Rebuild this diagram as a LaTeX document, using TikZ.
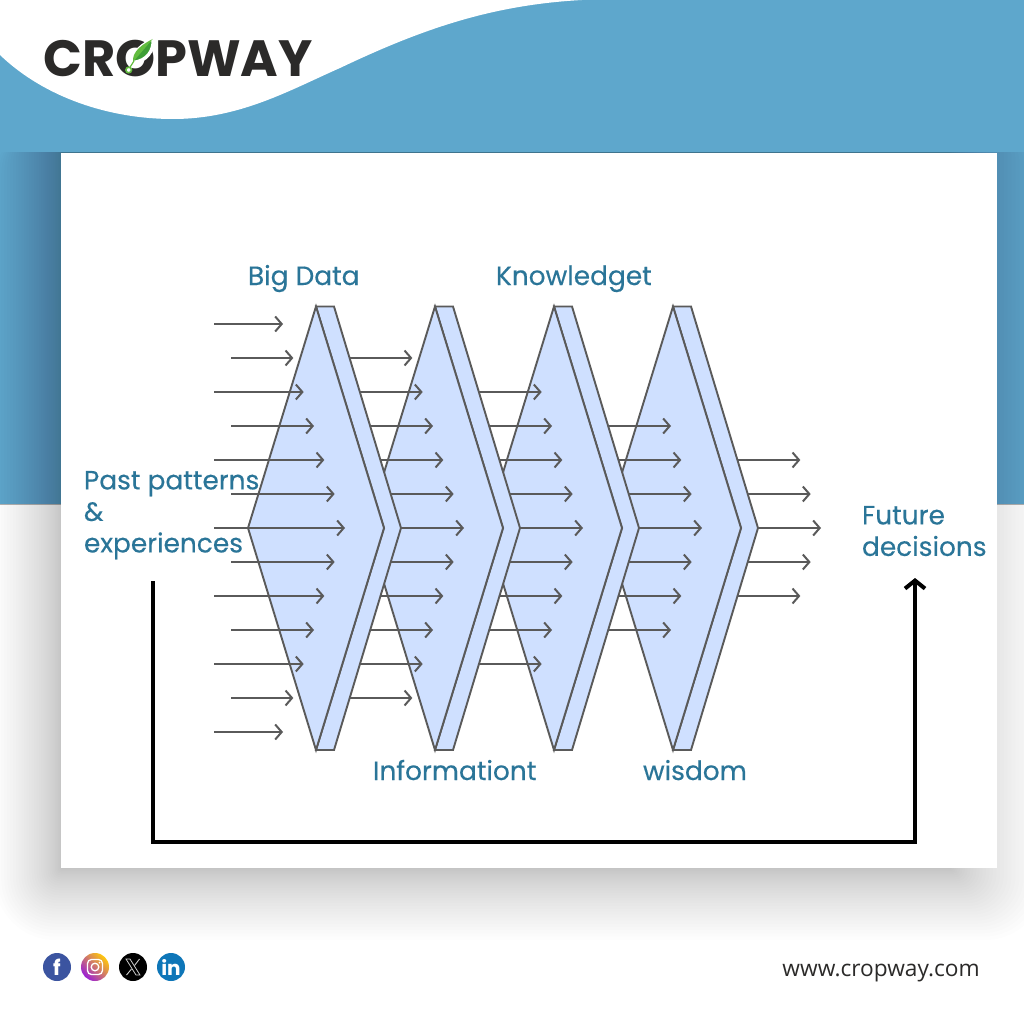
\documentclass[tikz,border=0pt]{standalone}
\usepackage{fontspec}
\setmainfont{Poppins}
\newfontfamily\labelfont[FakeBold=0.3]{Poppins}
\newfontfamily\webfont{Open Sans}
\usetikzlibrary{arrows.meta,calc}
\definecolor{bandblue}{HTML}{5EA7CC}
\definecolor{labelblue}{HTML}{2A7598}
\definecolor{panelfill}{HTML}{CFE0FF}
\definecolor{edgegray}{HTML}{5A5A5A}
\definecolor{logoink}{HTML}{2B2A29}
\definecolor{leafgreen}{HTML}{62BC3F}
\definecolor{leafdark}{HTML}{3E9E36}
\definecolor{igyellow}{HTML}{FFC80A}
\definecolor{igpink}{HTML}{F0207F}
\definecolor{igviolet}{HTML}{9A1FD6}
\tikzset{
  x=1pt,y=-1pt,
  panel/.style={draw=edgegray,fill=panelfill,line width=1.9,line join=miter},
  flow/.style={draw=edgegray,line width=2,-{Straight Barb[length=6.5,width=15,line width=2]}},
  feedback/.style={draw=black,line width=4,line join=miter,-{Straight Barb[length=8,width=20,line width=4]}},
  lbl/.style={text=labelblue,inner sep=0,outer sep=0,font=\labelfont\fontsize{26.4}{31.5}\selectfont,align=left},
  social/.style={circle,minimum size=28,inner sep=0,text=white},
}
\begin{document}
\begin{tikzpicture}
\useasboundingbox (0,0) rectangle (1024,1024);
\clip (0,0) rectangle (1024,1024);
\fill[white] (0,0) rectangle (1024,1024);
\fill[bandblue] (0,0) rectangle (1024,504);
% soft shadow of the card
\begin{scope}
  \clip (0,153) rectangle (1024,1024);
  \foreach \k in {0,...,30}{
    \pgfmathsetmacro\t{(\k/30)^1.4}
    \fill[black,opacity=0.0082,rounded corners=60*\t]
      ({62-67*\t},{120}) rectangle ({950+95*\t},{868+72*\t});
  }
\end{scope}
\draw[black,opacity=.3,line width=1] (0,504.5) -- (61,504.5) (997,504.5) -- (1024,504.5);
% wave
\fill[white] (0,0) -- (0,55) .. controls (45,98) and (110,119) .. (173,119)
  .. controls (240,119) and (290,90) .. (340,68)
  .. controls (420,30) and (490,5) .. (582,0) -- cycle;
% card
\fill[white] (61,153) rectangle (997,868);
% logo
\node[inner sep=0,anchor=base west,text=logoink,font=\fontsize{51}{51}\selectfont\bfseries] (logo) at (43,77) {CROPWAY};
\draw[white,line width=3] (128.7,70) -- (137,58);
\fill[white] (131,65) .. controls (130,52) and (140,43) .. (155,37)
  .. controls (156,52) and (148,63) .. (131,65) -- cycle;
\draw[white,line width=2.2,fill=leafdark] (133,62) .. controls (132,52) and (141,45) .. (152.7,39)
  .. controls (153,51) and (147,60) .. (133,62) -- cycle;
\fill[leafgreen] (133,62) .. controls (132,52) and (141,45) .. (152.7,39) -- cycle;
\draw[leafgreen,line width=1.2] (129.5,68) -- (134,61);
\draw[leafgreen,line width=1.6,fill=white] (128.7,70) circle (2.8);
% panels, last one first so that each lies over the next
\foreach \p in {3,2,1,0}{
  \pgfmathsetmacro\off{119*\p}
  \coordinate (pt\p) at ({316+\off},306.5);
  \coordinate (pl\p) at ({248+\off},528);
  \coordinate (pb\p) at ({316+\off},750);
  \coordinate (pr\p) at ({384+\off},528);
  \coordinate (qt\p) at ({334+\off},306.5);
  \coordinate (qr\p) at ({401+\off},528);
  \coordinate (qb\p) at ({334+\off},750);
  \draw[panel] (pt\p) -- (qt\p) -- (qr\p) -- (qb\p) -- (pb\p) -- (pr\p) -- cycle;
  \draw[panel] (pt\p) -- (pl\p) -- (pb\p) -- (pr\p) -- cycle;
}
% flow arrows: column 0 comes in from the left, the others leave a panel's back edge
\foreach \c/\m in {0/6,1/5,2/4,3/3,4/2}{
  \foreach \i in {-6,...,6}{
    \pgfmathtruncatemacro\ai{abs(\i)}
    \ifnum\ai>\m\relax\else
      \pgfmathsetmacro\yy{528+34*\i}
      \pgfmathsetmacro\ex{345+119*\c-10.33*\ai}
      \ifnum\c=0
        \pgfmathsetmacro\sx{ifthenelse(mod(\ai,2)==0,214,231)}
      \else
        \pgfmathsetmacro\sx{401+119*(\c-1)-34*\ai*67/222}
      \fi
      \coordinate (fs) at (\sx,\yy);
      \coordinate (fe) at (\ex,\yy);
      \draw[flow] (fs) -- (fe);
    \fi
  }
}
% labels
\node[lbl,anchor=base west] (bigdata) at (248,285) {Big Data};
\node[lbl,anchor=base west] (knowledge) at (496,285) {Knowledget};
\node[lbl,anchor=base west] (information) at (373,780) {Informationt};
\node[lbl,anchor=base west] (wisdom) at (643,780) {wisdom};
\node[lbl,anchor=north west] (past) at (84,471) {Past patterns\\\&\\experiences};
\node[lbl,anchor=north west] (future) at (862,506) {Future\\decisions};
% feedback loop
\coordinate (fbstart) at (153,581);
\coordinate (fbleft) at (153,842);
\coordinate (fbright) at (915,842);
\coordinate (fbend) at (915,578);
\draw[feedback] (fbstart) -- (fbleft) -- (fbright) -- (fbend);
% social icons
\node[social,fill={rgb,255:red,59;green,84;blue,160}] (fb) at (57,967) {\fontsize{21}{21}\selectfont\bfseries f};
\shade[shading=axis,left color=igyellow,middle color=igpink,right color=igviolet,shading angle=-45] (95,967) circle (14);
\node[circle,minimum size=28,inner sep=0] (ig) at (95,967) {};
\draw[white,line width=1.3,rounded corners=4] (87.5,959.5) rectangle (102.5,974.5);
\draw[white,line width=1.3] (95,967) circle (3.8);
\fill[white] (99.5,962.5) circle (1);
\node[social,fill=black] (xx) at (133,967) {};
\draw[white!80!black,line width=.8] (126,959) -- (130,959) -- (140,975) -- (136,975) -- cycle;
\draw[white!80!black,line width=.9] (139.5,959) -- (134.5,965.5) (131.5,969) -- (126.5,975);
\node[social,fill={rgb,255:red,14;green,118;blue,184}] (li) at (171,967) {\fontsize{20}{20}\selectfont\bfseries in};
\node[inner sep=0,anchor=base east,text=logoink,font=\webfont\fontsize{22.7}{22.7}\selectfont] (web) at (980,976) {www.cropway.com};
\end{tikzpicture}
\end{document}
